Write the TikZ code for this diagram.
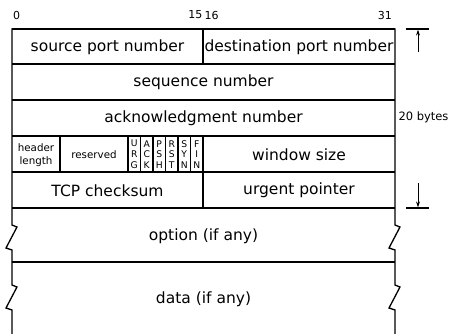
\documentclass[tikz,border=0pt]{standalone}
\usepackage{fontspec}
\setmainfont{DejaVu Sans}
\usetikzlibrary{arrows.meta}
\begin{document}
\begin{tikzpicture}[x=1pt,y=-1pt,
  grid/.style={line width=1.3pt},
  big/.style={font=\fontsize{15.5}{18}\selectfont, inner sep=0pt},
  small/.style={font=\fontsize{10.3}{13}\selectfont, inner sep=0pt, align=center},
  flag/.style={font=\fontsize{9.2}{10.8}\selectfont, inner sep=0pt, align=center},
  num/.style={font=\fontsize{11}{13}\selectfont, inner sep=0pt},
  dimbar/.style={line width=1.3pt},
  dimarrow/.style={line width=1pt, -{Stealth[length=6pt,width=4pt]}}]
\useasboundingbox (0,0) rectangle (450,333);
% horizontal lines
\draw[grid] (12,29) -- (395,29);
\foreach \y in {64,100,136,172,208,262} \draw[grid] (12,\y) -- (395,\y);
% outer edges with breaks
\draw[grid] (12,28.35) -- (12,225) -- (17,227) -- (6,248) -- (12,250) -- (12,285) -- (17,287) -- (6,308) -- (12,310) -- (12,334);
\draw[grid] (395,28.35) -- (395,225) -- (400,227) -- (389,248) -- (395,250) -- (395,285) -- (400,287) -- (389,308) -- (395,310) -- (395,334);
% dividers
\draw[grid] (203,29) -- (203,64);
\draw[grid] (203,136) -- (203,208);
\draw[grid] (60,136) -- (60,172);
\draw[grid] (128,136) -- (128,172);
\foreach \x in {140.5,153,165.5,178,190.5} \draw[grid] (\x,136) -- (\x,172);
% bit numbers
\node[num] (n0) at (16.5,15) {0};
\node[num,anchor=east] (n15) at (202.5,15) {15};
\node[num,anchor=west] (n16) at (204.5,15) {16};
\node[num,anchor=east] (n31) at (392,15) {31};
% fields
\node[big] (src) at (107.5,47) {source port number};
\node[big] (dst) at (299,47) {destination port number};
\node[big] (seq) at (203.5,82.5) {sequence number};
\node[big] (ack) at (203.5,118.5) {acknowledgment number};
\node[small] (hlen) at (36,155) {header\\length};
\node[small] (res) at (94,154.5) {reserved};
\node[flag] (urg) at (134.25,154.5) {U\\R\\G};
\node[flag] (ackf) at (146.75,154.5) {A\\C\\K};
\node[flag] (psh) at (159.25,154.5) {P\\S\\H};
\node[flag] (rst) at (171.75,154.5) {R\\S\\T};
\node[flag] (syn) at (184.25,154.5) {S\\Y\\N};
\node[flag] (fin) at (196.75,154.5) {F\\I\\N};
\node[big] (win) at (299,155) {window size};
\node[big] (cks) at (107.5,190.5) {TCP checksum};
\node[big] (urp) at (299,190.5) {urgent pointer};
\node[big] (opt) at (203.5,236) {option (if any)};
\node[big] (dat) at (203.5,299) {data (if any)};
% size marker
\coordinate (tbl) at (406,29);
\coordinate (tbr) at (429,29);
\coordinate (tas) at (418,52);
\coordinate (tae) at (418,29.6);
\coordinate (bbl) at (406,208);
\coordinate (bbr) at (429,208);
\coordinate (bas) at (418,183);
\coordinate (bae) at (418,207.4);
\draw[dimbar] (tbl) -- (tbr);
\draw[dimbar] (bbl) -- (bbr);
\draw[dimarrow] (tas) -- (tae);
\draw[dimarrow] (bas) -- (bae);
\node[font=\fontsize{11.5}{13}\selectfont, inner sep=0pt] (bytes) at (423.5,117) {20 bytes};
\end{tikzpicture}
\end{document}
